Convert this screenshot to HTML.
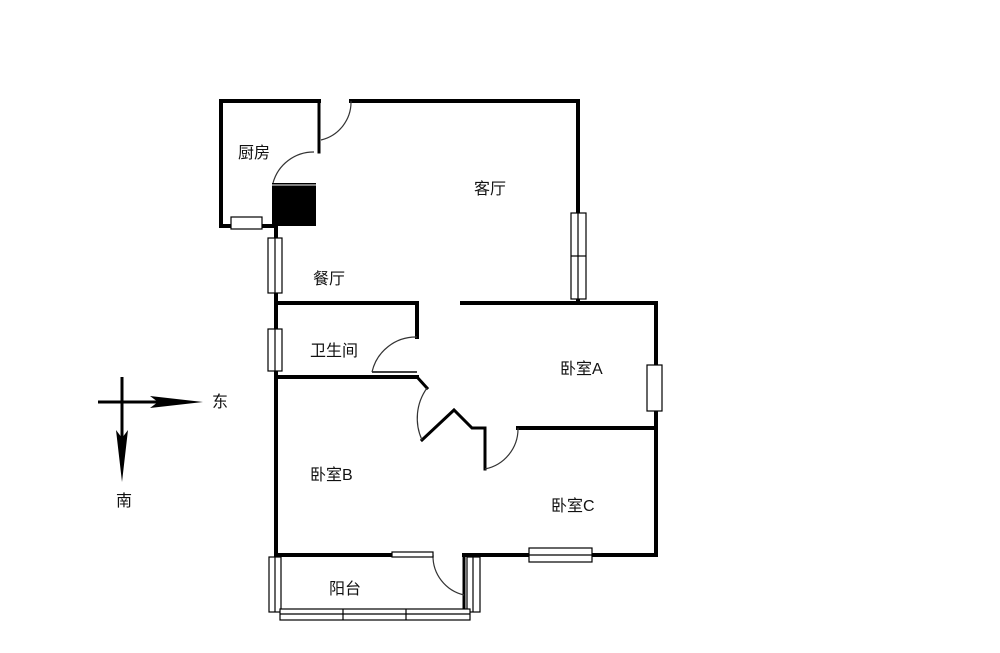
<!DOCTYPE html>
<html><head><meta charset="utf-8"><style>
body{margin:0;background:#fff;width:1000px;height:653px;overflow:hidden}
svg{display:block}
text{font-family:"Liberation Sans","Noto Sans CJK SC",sans-serif;font-size:16px;fill:#111}
</style></head><body>
<svg width="1000" height="653" viewBox="0 0 1000 653">
<g stroke="#000" stroke-width="4" fill="none" stroke-linecap="square">
<polyline points="319,101 221,101 221,226 272,226"/>
<line x1="319" y1="101" x2="319" y2="152" stroke-width="3"/>
<line x1="351" y1="101" x2="578" y2="101"/>
<line x1="578" y1="101" x2="578" y2="302"/>
<line x1="276" y1="226" x2="276" y2="555"/>
<polyline points="276,303 417,303 417,337"/>
<line x1="276" y1="377" x2="417" y2="377"/>
<line x1="462" y1="303" x2="656" y2="303"/>
<line x1="656" y1="303" x2="656" y2="555"/>
<line x1="518" y1="428" x2="656" y2="428"/>
<polyline points="417,377 427,388" stroke-width="3"/>
<polyline points="422,440 454,410 472,428 485,428 485,469" stroke-width="3"/>
<line x1="276" y1="555" x2="390" y2="555"/>
<line x1="464" y1="555" x2="464" y2="610" stroke-width="3"/>
<line x1="464" y1="555" x2="656" y2="555"/>
</g>
<rect x="272" y="183" width="44" height="43" fill="#000"/>
<line x1="272" y1="185" x2="316" y2="185" stroke="#fff" stroke-width="1"/>
<line x1="372" y1="372" x2="417" y2="372" stroke="#000" stroke-width="1.5"/>
<g stroke="#333" stroke-width="1.2" fill="none">
<path d="M321,140 A39,39 0 0 0 351,101"/>
<path d="M314,152 A42,42 0 0 0 273,183"/>
<path d="M417,337 A45,45 0 0 0 372,372"/>
<path d="M427,388 A52,52 0 0 0 422,440"/>
<path d="M485,469 A41,41 0 0 0 518,428"/>
<path d="M433,555 A40,40 0 0 0 464,595"/>
</g>
<g stroke="#000" stroke-width="1.2" fill="#fff">
<rect x="231" y="217" width="31" height="12"/>
<rect x="268" y="238" width="14" height="55"/><line x1="275" y1="238" x2="275" y2="293"/>
<rect x="268" y="329" width="14" height="42"/><line x1="275" y1="329" x2="275" y2="371"/>
<rect x="571" y="213" width="15" height="86"/><line x1="578" y1="213" x2="578" y2="299"/><line x1="571" y1="256" x2="586" y2="256"/>
<rect x="647" y="365" width="15" height="46"/>
<rect x="529" y="548" width="63" height="14"/><line x1="529" y1="555" x2="592" y2="555"/>
<rect x="392" y="552" width="41" height="5"/>
<rect x="269" y="557" width="12" height="55"/><line x1="275" y1="557" x2="275" y2="612"/>
<rect x="467" y="557" width="13" height="55"/><line x1="473" y1="557" x2="473" y2="612"/>
<rect x="280" y="609" width="190" height="11"/><line x1="280" y1="614" x2="470" y2="614"/>
<line x1="343" y1="609" x2="343" y2="620"/><line x1="406" y1="609" x2="406" y2="620"/>
</g>
<g fill="#000" stroke="#000">
<line x1="98" y1="402" x2="160" y2="402" stroke-width="3"/>
<line x1="122" y1="377" x2="122" y2="440" stroke-width="3"/>
<polygon points="150,396 203,402 150,408 158,402" stroke="none"/>
<polygon points="116,430 122,482 128,430 122,438" stroke="none"/>
</g>
<text x="212" y="407">东</text>
<text x="116" y="506">南</text>
<text x="238" y="158">厨房</text>
<text x="474" y="194">客厅</text>
<text x="313" y="284">餐厅</text>
<text x="310" y="356">卫生间</text>
<text x="560" y="374">卧室A</text>
<text x="310" y="480">卧室B</text>
<text x="551" y="511">卧室C</text>
<text x="329" y="594">阳台</text>
</svg>
</body></html>
